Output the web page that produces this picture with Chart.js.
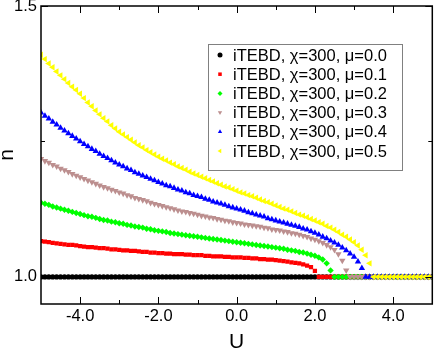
<!DOCTYPE html>
<html>
<head>
<meta charset="utf-8">
<script src="https://cdn.jsdelivr.net/npm/chart.js@4.4.1/dist/chart.umd.min.js"></script>
<style>
  body { margin: 0; background: #fff; }
  canvas { display: block; }
</style>
</head>
<body>
<canvas id="grafica" width="436" height="350"></canvas>
<script>
// Eje U (paso 0.1)
const uValues = [
  -5.0, -4.9, -4.8, -4.7, -4.6, -4.5, -4.4, -4.3, -4.2, -4.1,
  -4.0, -3.9, -3.8, -3.7, -3.6, -3.5, -3.4, -3.3, -3.2, -3.1,
  -3.0, -2.9, -2.8, -2.7, -2.6, -2.5, -2.4, -2.3, -2.2, -2.1,
  -2.0, -1.9, -1.8, -1.7, -1.6, -1.5, -1.4, -1.3, -1.2, -1.1,
  -1.0, -0.9, -0.8, -0.7, -0.6, -0.5, -0.4, -0.3, -0.2, -0.1,
  0.0, 0.1, 0.2, 0.3, 0.4, 0.5, 0.6, 0.7, 0.8, 0.9,
  1.0, 1.1, 1.2, 1.3, 1.4, 1.5, 1.6, 1.7, 1.8, 1.9,
  2.0, 2.1, 2.2, 2.3, 2.4, 2.5, 2.6, 2.7, 2.8, 2.9,
  3.0, 3.1, 3.2, 3.3, 3.4, 3.5, 3.6, 3.7, 3.8, 3.9,
  4.0, 4.1, 4.2, 4.3, 4.4, 4.5, 4.6, 4.7, 4.8, 4.9,
  5.0
];

// n(U) para cada mu
const nMu00 = [
  1, 1, 1, 1, 1, 1, 1, 1, 1, 1,
  1, 1, 1, 1, 1, 1, 1, 1, 1, 1,
  1, 1, 1, 1, 1, 1, 1, 1, 1, 1,
  1, 1, 1, 1, 1, 1, 1, 1, 1, 1,
  1, 1, 1, 1, 1, 1, 1, 1, 1, 1,
  1, 1, 1, 1, 1, 1, 1, 1, 1, 1,
  1, 1, 1, 1, 1, 1, 1, 1, 1, 1,
  1, 1, 1, 1, 1, 1, 1, 1, 1, 1,
  1, 1, 1, 1, 1, 1, 1, 1, 1, 1,
  1, 1, 1, 1, 1, 1, 1, 1, 1, 1,
  1
];
const nMu01 = [
  1.066, 1.065, 1.064, 1.063, 1.062, 1.061, 1.060, 1.059, 1.059, 1.058,
  1.057, 1.056, 1.055, 1.055, 1.054, 1.053, 1.053, 1.052, 1.051, 1.051,
  1.050, 1.049, 1.049, 1.048, 1.048, 1.047, 1.046, 1.046, 1.045, 1.045,
  1.044, 1.044, 1.043, 1.043, 1.042, 1.042, 1.042, 1.041, 1.041, 1.040,
  1.040, 1.040, 1.039, 1.039, 1.038, 1.038, 1.038, 1.037, 1.037, 1.036,
  1.036, 1.036, 1.035, 1.035, 1.034, 1.034, 1.033, 1.033, 1.032, 1.032,
  1.031, 1.030, 1.029, 1.028, 1.027, 1.026, 1.025, 1.023, 1.021, 1.018,
  1.011, 1, 1, 1, 1, 1, 1, 1, 1, 1,
  1, 1, 1, 1, 1, 1, 1, 1, 1, 1,
  1, 1, 1, 1, 1, 1, 1, 1, 1, 1,
  1
];
const nMu02 = [
  1.137, 1.135, 1.133, 1.130, 1.128, 1.126, 1.124, 1.122, 1.120, 1.118,
  1.116, 1.114, 1.112, 1.111, 1.109, 1.107, 1.105, 1.104, 1.102, 1.101,
  1.099, 1.098, 1.096, 1.095, 1.093, 1.092, 1.091, 1.089, 1.088, 1.086,
  1.085, 1.084, 1.083, 1.081, 1.080, 1.079, 1.078, 1.077, 1.076, 1.075,
  1.074, 1.073, 1.072, 1.071, 1.070, 1.069, 1.068, 1.067, 1.066, 1.065,
  1.064, 1.063, 1.062, 1.061, 1.060, 1.059, 1.058, 1.057, 1.056, 1.055,
  1.054, 1.053, 1.052, 1.050, 1.049, 1.048, 1.046, 1.045, 1.043, 1.041,
  1.039, 1.036, 1.032, 1.025, 1.012, 1, 1, 1, 1, 1,
  1, 1, 1, 1, 1, 1, 1, 1, 1, 1,
  1, 1, 1, 1, 1, 1, 1, 1, 1, 1,
  1
];
const nMu03 = [
  1.218, 1.214, 1.211, 1.207, 1.204, 1.200, 1.197, 1.194, 1.190, 1.187,
  1.184, 1.181, 1.178, 1.175, 1.172, 1.169, 1.166, 1.164, 1.161, 1.159,
  1.156, 1.154, 1.151, 1.149, 1.146, 1.144, 1.142, 1.140, 1.137, 1.135,
  1.133, 1.131, 1.129, 1.127, 1.125, 1.123, 1.121, 1.120, 1.118, 1.117,
  1.115, 1.113, 1.112, 1.110, 1.109, 1.107, 1.106, 1.104, 1.103, 1.101,
  1.100, 1.099, 1.097, 1.096, 1.095, 1.094, 1.093, 1.091, 1.090, 1.088,
  1.087, 1.086, 1.084, 1.083, 1.081, 1.080, 1.078, 1.076, 1.074, 1.071,
  1.069, 1.066, 1.063, 1.059, 1.055, 1.050, 1.042, 1.030, 1.012, 1,
  1, 1, 1, 1, 1, 1, 1, 1, 1, 1,
  1, 1, 1, 1, 1, 1, 1, 1, 1, 1,
  1
];
const nMu04 = [
  1.303, 1.297, 1.292, 1.286, 1.281, 1.275, 1.270, 1.265, 1.260, 1.255,
  1.250, 1.245, 1.241, 1.236, 1.232, 1.227, 1.223, 1.219, 1.215, 1.211,
  1.207, 1.204, 1.200, 1.197, 1.193, 1.190, 1.187, 1.184, 1.181, 1.178,
  1.175, 1.172, 1.169, 1.167, 1.164, 1.161, 1.159, 1.156, 1.154, 1.151,
  1.149, 1.147, 1.144, 1.142, 1.139, 1.137, 1.135, 1.133, 1.130, 1.128,
  1.126, 1.124, 1.122, 1.119, 1.117, 1.115, 1.113, 1.111, 1.108, 1.106,
  1.104, 1.102, 1.100, 1.098, 1.096, 1.094, 1.092, 1.089, 1.087, 1.084,
  1.081, 1.078, 1.074, 1.071, 1.067, 1.063, 1.059, 1.054, 1.049, 1.043,
  1.037, 1.028, 1.016, 1, 1, 1, 1, 1, 1, 1,
  1, 1, 1, 1, 1, 1, 1, 1, 1, 1,
  1
];
const nMu05 = [
  1.410, 1.402, 1.394, 1.387, 1.379, 1.372, 1.365, 1.358, 1.351, 1.345,
  1.338, 1.330, 1.322, 1.315, 1.307, 1.300, 1.293, 1.287, 1.280, 1.274,
  1.268, 1.263, 1.258, 1.253, 1.248, 1.243, 1.239, 1.234, 1.230, 1.226,
  1.222, 1.218, 1.215, 1.211, 1.208, 1.204, 1.201, 1.198, 1.194, 1.191,
  1.188, 1.185, 1.182, 1.179, 1.176, 1.173, 1.170, 1.167, 1.165, 1.162,
  1.159, 1.156, 1.154, 1.151, 1.149, 1.146, 1.143, 1.140, 1.138, 1.135,
  1.132, 1.129, 1.126, 1.124, 1.121, 1.118, 1.115, 1.113, 1.110, 1.107,
  1.104, 1.101, 1.098, 1.094, 1.091, 1.087, 1.083, 1.078, 1.074, 1.069,
  1.064, 1.058, 1.050, 1.040, 1.025, 1, 1, 1, 1, 1,
  1, 1, 1, 1, 1, 1, 1, 1, 1, 1,
  1
];

const etiquetas = [
  'iTEBD, \u03c7=300, \u03bc=0.0',
  'iTEBD, \u03c7=300, \u03bc=0.1',
  'iTEBD, \u03c7=300, \u03bc=0.2',
  'iTEBD, \u03c7=300, \u03bc=0.3',
  'iTEBD, \u03c7=300, \u03bc=0.4',
  'iTEBD, \u03c7=300, \u03bc=0.5'
];
const xTicks = [-4, -2, 0, 2, 4];
const xMinorTicks = [-3, -1, 1, 3];
const yTicks = [1.0, 1.5];
const yMinorTicks = [1.25];

const series = [nMu00, nMu01, nMu02, nMu03, nMu04, nMu05];
const colores = ['#000000', '#ff0000', '#00ff00', '#bc8f8f', '#0000ff', '#ffff00'];
const estilos = ['circle', 'rect', 'rectRot', 'triangle', 'triangle', 'triangle'];
const rotaciones = [0, 0, 0, 180, 0, -90];
const radios = [2.7, 3, 3.2, 3.7, 3.7, 3.7];

const fuente = '"Liberation Sans", Arial, sans-serif';

const datasets = series.map((vals, k) => ({
  label: etiquetas[k],
  data: uValues.map((u, i) => ({ x: u, y: vals[i] })),
  showLine: false,
  backgroundColor: colores[k],
  borderColor: colores[k],
  borderWidth: 0,
  pointStyle: estilos[k],
  pointRotation: rotaciones[k],
  pointRadius: radios[k],
  pointHoverRadius: radios[k],
  order: series.length - 1 - k // la ultima serie queda encima
}));

// Marco, ticks internos y leyenda dentro del area
const marcoPlugin = {
  id: 'marco',
  afterDatasetsDraw(chart) {
    const ctx = chart.ctx;
    const a = chart.chartArea;
    const sx = chart.scales.x, sy = chart.scales.y;
    ctx.save();
    ctx.strokeStyle = '#000';
    ctx.lineWidth = 1.5;
    ctx.strokeRect(a.left, a.top, a.right - a.left, a.bottom - a.top);

    ctx.lineWidth = 1;
    ctx.beginPath();
    xTicks.forEach(v => {
      const px = Math.round(sx.getPixelForValue(v)) + 0.5;
      ctx.moveTo(px, a.bottom); ctx.lineTo(px, a.bottom - 7);
      ctx.moveTo(px, a.top); ctx.lineTo(px, a.top + 7);
    });
    xMinorTicks.forEach(v => {
      const px = Math.round(sx.getPixelForValue(v)) + 0.5;
      ctx.moveTo(px, a.bottom); ctx.lineTo(px, a.bottom - 4);
      ctx.moveTo(px, a.top); ctx.lineTo(px, a.top + 4);
    });
    yTicks.forEach(v => {
      const py = Math.round(sy.getPixelForValue(v)) + 0.5;
      ctx.moveTo(a.left, py); ctx.lineTo(a.left + 7, py);
      ctx.moveTo(a.right, py); ctx.lineTo(a.right - 7, py);
    });
    yMinorTicks.forEach(v => {
      const py = Math.round(sy.getPixelForValue(v)) + 0.5;
      ctx.moveTo(a.left, py); ctx.lineTo(a.left + 4, py);
      ctx.moveTo(a.right, py); ctx.lineTo(a.right - 4, py);
    });
    ctx.stroke();

    // leyenda
    const bx = 208.5, by = 44.5, bw = 194, bh = 126;
    ctx.fillStyle = '#fff';
    ctx.fillRect(bx, by, bw, bh);
    ctx.strokeStyle = '#808080';
    ctx.lineWidth = 1;
    ctx.strokeRect(bx, by, bw, bh);
    ctx.font = '16.5px ' + fuente;
    ctx.textBaseline = 'middle';
    ctx.textAlign = 'left';
    etiquetas.forEach((txt, k) => {
      const cy = 55 + k * 19.2;
      ctx.fillStyle = colores[k];
      ctx.strokeStyle = colores[k];
      Chart.helpers.drawPoint(ctx, {
        pointStyle: estilos[k], rotation: rotaciones[k], radius: 2.5, borderWidth: 0
      }, 220, cy);
      ctx.fillStyle = '#000';
      ctx.fillText(txt, 233, cy + 1);
    });
    ctx.restore();
  }
};

new Chart(document.getElementById('grafica'), {
  type: 'scatter',
  data: { datasets: datasets },
  options: {
    responsive: false,
    animation: false,
    layout: { padding: { top: 6, right: 3, left: 0, bottom: 0 } },
    plugins: { legend: { display: false }, tooltip: { enabled: false } },
    scales: {
      x: {
        type: 'linear', min: -5, max: 5,
        grid: { display: false, drawTicks: false },
        border: { display: false },
        afterBuildTicks: s => { s.ticks = xTicks.map(v => ({ value: v })); },
        afterFit: s => { s.height = 46; s.paddingLeft = 0; s.paddingRight = 0; },
        ticks: {
          color: '#000', padding: 3,
          font: { family: fuente, size: 16.5 },
          callback: v => v.toFixed(1)
        },
        title: {
          display: true, text: 'U', color: '#000',
          font: { family: fuente, size: 21, lineHeight: 0.7 },
          padding: { top: 0, bottom: 0 }
        }
      },
      y: {
        type: 'linear', min: 0.95, max: 1.5,
        grid: { display: false, drawTicks: false },
        border: { display: false },
        afterBuildTicks: s => { s.ticks = yTicks.map(v => ({ value: v })); },
        afterFit: s => { s.width = 41; s.paddingTop = 0; s.paddingBottom = 0; },
        ticks: {
          color: '#000', padding: 4,
          font: { family: fuente, size: 16.5 },
          callback: v => v.toFixed(1)
        },
        title: {
          display: true, text: 'n', color: '#000',
          font: { family: fuente, size: 21, lineHeight: 0.7 },
          padding: { top: 0, bottom: 0 }
        }
      }
    }
  },
  plugins: [marcoPlugin]
});
</script>
</body>
</html>
